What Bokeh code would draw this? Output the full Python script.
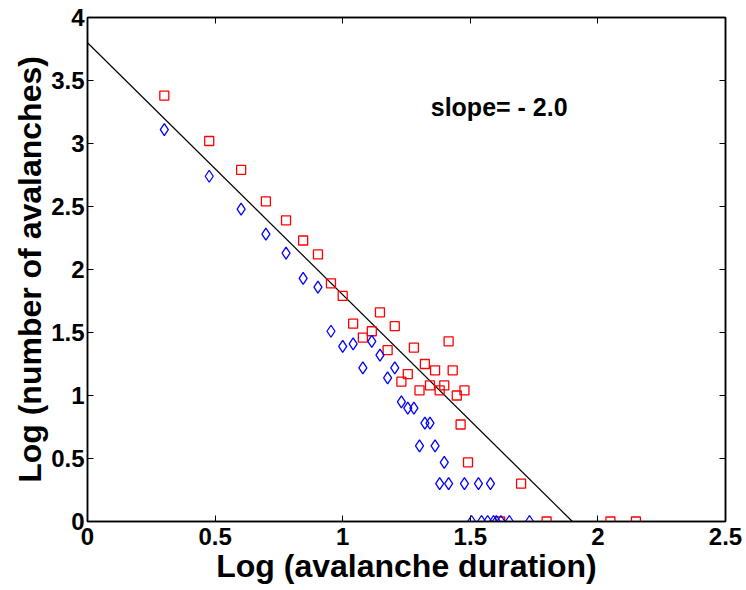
from bokeh.plotting import figure
from bokeh.models import (ColumnDataSource, LinearAxis, FixedTicker, Range1d,
                          Label, CustomJSTickFormatter)
from bokeh.embed import file_html
from bokeh.resources import INLINE

# ---- data ----
red_x = [0.301, 0.477, 0.602, 0.699, 0.778, 0.845, 0.903, 0.954, 1.000, 1.041,
         1.079, 1.114, 1.146, 1.176, 1.204, 1.230, 1.255, 1.279, 1.301, 1.322,
         1.342, 1.362, 1.380, 1.398, 1.415, 1.431, 1.447, 1.462, 1.477, 1.491,
         1.617, 1.699, 1.799, 2.049, 2.149]
red_y = [3.38, 3.02, 2.79, 2.54, 2.39, 2.23, 2.12, 1.89, 1.79, 1.57,
         1.46, 1.51, 1.66, 1.36, 1.55, 1.11, 1.17, 1.38, 1.04, 1.25,
         1.08, 1.20, 1.04, 1.08, 1.43, 1.20, 1.00, 0.77, 1.04, 0.47,
         0.00, 0.30, 0.00, 0.00, 0.00]

blue_x = [0.301, 0.477, 0.602, 0.699, 0.778, 0.845, 0.903, 0.954, 1.000, 1.041,
          1.079, 1.114, 1.146, 1.176, 1.204, 1.230, 1.255, 1.279, 1.301, 1.322,
          1.342, 1.362, 1.380, 1.398, 1.415, 1.477, 1.505, 1.532, 1.544, 1.568,
          1.579, 1.591, 1.602, 1.620, 1.653, 1.732]
blue_y = [3.11, 2.74, 2.48, 2.28, 2.13, 1.93, 1.86, 1.51, 1.39, 1.41,
          1.22, 1.43, 1.32, 1.14, 1.22, 0.95, 0.90, 0.90, 0.60, 0.78,
          0.78, 0.60, 0.30, 0.47, 0.30, 0.30, 0.00, 0.30, 0.00, 0.00,
          0.30, 0.00, 0.00, 0.00, 0.00, 0.00]

fit_intercept = 3.8
fit_slope = -2.0
fit_x = [0.0, 1.9]
fit_y = [fit_intercept + fit_slope * v for v in fit_x]

x_ticks = [0, 0.5, 1, 1.5, 2, 2.5]
y_ticks = [0, 0.5, 1, 1.5, 2, 2.5, 3, 3.5, 4]
slope_text = "slope= - 2.0"
x_title = "Log (avalanche duration)"
y_title = "Log (number of avalanches)"

FONT = "Liberation Sans"

p = figure(frame_width=638, frame_height=504,
           x_range=Range1d(0, 2.5), y_range=Range1d(0, 4),
           output_backend="svg", toolbar_location=None,
           min_border_left=87, min_border_top=17, min_border_right=20,
           min_border_bottom=66)
p.grid.visible = False
p.background_fill_color = "white"
p.border_fill_color = "white"
p.outline_line_color = "black"
p.outline_line_width = 1.5

p.line(fit_x, fit_y, line_color="black", line_width=1.2)

p.scatter(x="x", y="y", source=ColumnDataSource(dict(x=red_x, y=red_y)),
          marker="square", size=9, fill_color=None, line_color="#ff0000",
          line_width=1.3)
p.scatter(x="x", y="y", source=ColumnDataSource(dict(x=blue_x, y=blue_y)),
          marker="diamond", size=12, fill_color=None, line_color="#0000ff",
          line_width=1.3)

def style_axis(ax, ticks, show_labels):
    ax.ticker = FixedTicker(ticks=ticks)
    ax.major_tick_in = 6
    ax.major_tick_out = 0
    ax.minor_tick_line_color = None
    ax.axis_line_color = "black"
    ax.axis_line_width = 1.5
    ax.major_tick_line_color = "black"
    ax.major_tick_line_width = 1
    ax.major_label_text_font = FONT
    ax.major_label_text_font_style = "bold"
    ax.major_label_text_color = "black"
    ax.major_label_text_font_size = "24px"
    if not show_labels:
        ax.formatter = CustomJSTickFormatter(code="return ''")
        ax.major_label_standoff = 0

xa = p.xaxis[0]
ya = p.yaxis[0]
style_axis(xa, x_ticks, True)
style_axis(ya, y_ticks, True)
xa.major_label_standoff = 6
ya.major_label_standoff = 3
xa.axis_label = x_title
ya.axis_label = y_title
for ax in (xa, ya):
    ax.axis_label_text_font = FONT
    ax.axis_label_text_font_style = "bold"
    ax.axis_label_text_font_size = "32px"
    ax.axis_label_text_color = "black"
    ax.axis_label_standoff = 0

top = LinearAxis()
right = LinearAxis()
style_axis(top, x_ticks, False)
style_axis(right, y_ticks, False)
p.add_layout(top, "above")
p.add_layout(right, "right")

p.add_layout(Label(x=1.345, y=3.29, text=slope_text, text_font=FONT,
                   text_font_style="bold", text_font_size="25px",
                   text_color="black", text_baseline="alphabetic"))

open("out.html", "w").write(file_html(p, INLINE))
